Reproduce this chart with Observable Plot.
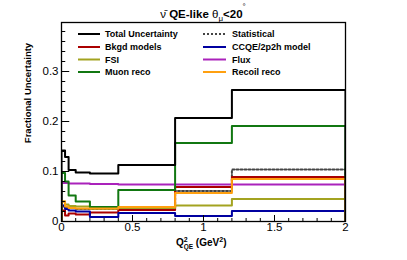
<!DOCTYPE html>
<html><head><meta charset="utf-8">
<script src="https://cdn.jsdelivr.net/npm/d3@7"></script>
<script src="https://cdn.jsdelivr.net/npm/@observablehq/plot@0.6"></script>
<style>body{margin:0;background:#fff} #c{width:407px;height:260px}</style>
</head><body><div id="c"></div>
<script>
const binEdges = [0, 0.025, 0.05, 0.1, 0.2, 0.4, 0.8, 1.2, 2.0];
const totalUnc  = [0.142, 0.129, 0.103, 0.098, 0.096, 0.113, 0.207, 0.263];
const statUnc   = [0.030, 0.028, 0.027, 0.025, 0.025, 0.028, 0.061, 0.104];
const bkgdUnc   = [0.022, 0.012, 0.016, 0.014, 0.018, 0.023, 0.069, 0.089];
const ccqeUnc   = [0.032, 0.025, 0.022, 0.020, 0.009, 0.017, 0.011, 0.021];
const fsiUnc    = [0.040, 0.034, 0.031, 0.030, 0.026, 0.027, 0.032, 0.045];
const fluxUnc   = [0.077, 0.077, 0.076, 0.076, 0.075, 0.074, 0.074, 0.074];
const muonUnc   = [0.097, 0.080, 0.052, 0.040, 0.029, 0.063, 0.157, 0.191];
const recoilUnc = [0.040, 0.030, 0.027, 0.026, 0.026, 0.029, 0.057, 0.085];
const seriesNames = ["Total Uncertainty","Statistical","Bkgd models","CCQE/2p2h model","FSI","Flux","Muon reco","Recoil reco"];
const seriesColors = ["#000000","#444444","#aa0000","#0000a0","#a3a320","#aa22bb","#117711","#ffa010"];
const xTicks = [0, 0.5, 1, 1.5, 2];
const yTicks = [0, 0.1, 0.2, 0.3];

const seriesValues = [totalUnc, statUnc, bkgdUnc, ccqeUnc, fsiUnc, fluxUnc, muonUnc, recoilUnc];
function stepPts(vals, name) {
  const pts = [{x: binEdges[0], y: 0, s: name}];
  vals.forEach((v, i) => pts.push({x: binEdges[i], y: v, s: name}));
  pts.push({x: binEdges[binEdges.length - 1], y: vals[vals.length - 1], s: name});
  pts.push({x: binEdges[binEdges.length - 1], y: 0, s: name});
  return pts;
}
const drawOrder = [1, 2, 3, 4, 5, 6, 7, 0];
const lineMarks = drawOrder.map(i => Plot.line(stepPts(seriesValues[i], seriesNames[i]), {
  x: "x", y: "y", curve: "step-after", stroke: seriesColors[i], strokeWidth: 2,
  strokeDasharray: i === 1 ? "2,2" : null, clip: true
}));

const xMinor = d3.range(0, 2.0001, 0.1).map(v => +v.toFixed(2));
const yMinor = d3.range(0, 0.3901, 0.02).map(v => +v.toFixed(2));

const plot = Plot.plot({
  width: 407, height: 260,
  marginLeft: 61, marginRight: 62, marginTop: 22, marginBottom: 39,
  x: {domain: [0, 2]},
  y: {domain: [0, 0.398]},
  style: {fontFamily: "'Liberation Sans', Arial, sans-serif", background: "white"},
  marks: [
    ...lineMarks,
    Plot.ruleX(xMinor, {x: d => d, y1: 0, y2: d => (xTicks.includes(d) ? 0.012 : 0.006), stroke: "#000", strokeWidth: 1}),
    Plot.ruleY(yMinor, {y: d => d, x1: 0, x2: d => (yTicks.includes(d) ? 0.058 : 0.03), stroke: "#000", strokeWidth: 1}),
    Plot.frame({stroke: "#000", strokeWidth: 1.3}),
    Plot.axisX({ticks: xTicks, tickSize: 0, tickPadding: 1, tickFormat: d => String(d), fontSize: 11.5, fill: "#000", label: null}),
    Plot.axisY({ticks: yTicks, tickSize: 0, tickPadding: 3, tickFormat: d => String(d), fontSize: 11.5, fill: "#000", label: null})
  ]
});
document.getElementById("c").appendChild(plot);

const svg = d3.select(plot);
const F = "'Liberation Sans', Arial, sans-serif";
// title
const t = svg.append("text").attr("x", 203).attr("y", 18).attr("text-anchor", "middle")
  .attr("font-family", F).attr("font-size", 11.5).attr("fill", "#000");
t.append("tspan").attr("font-weight", "normal").text("\u03BD\u0304");
t.append("tspan").attr("font-weight", "bold").text(" QE-like ");
t.append("tspan").attr("font-weight", "normal").text("\u03B8");
t.append("tspan").attr("font-weight", "normal").attr("font-size", 8).attr("dy", 3).text("\u03BC");
t.append("tspan").attr("font-weight", "bold").attr("dy", -3).text("<20");
t.append("tspan").attr("font-weight", "normal").attr("font-size", 8).attr("dy", -9).text("\u00B0");

// y label
svg.append("text").attr("transform", "translate(31,93) rotate(-90)").attr("text-anchor", "middle")
  .attr("font-family", F).attr("font-size", 9.5).attr("font-weight", "bold").attr("fill", "#000")
  .text("Fractional Uncertainty");

// x label
const xl = svg.append("text").attr("x", 176).attr("y", 246).attr("text-anchor", "start")
  .attr("font-family", F).attr("font-size", 10).attr("font-weight", "bold").attr("fill", "#000");
xl.append("tspan").text("Q");
xl.append("tspan").attr("font-size", 7).attr("dy", -4).text("2");
xl.append("tspan").attr("font-size", 6.5).attr("dx", -4).attr("dy", 7).text("QE");
xl.append("tspan").attr("dy", -3).text(" (GeV");
xl.append("tspan").attr("font-size", 7).attr("dy", -4).text("2");
xl.append("tspan").attr("dy", 4).text(")");

// legend
const legCols = [[78, 100, 105], [203, 226, 232]];
const legRows = [34, 47, 59.5, 72];
seriesNames.forEach((name, i) => {
  const col = legCols[i % 2], row = legRows[Math.floor(i / 2)];
  svg.append("line").attr("x1", col[0]).attr("x2", col[1]).attr("y1", row).attr("y2", row)
    .attr("stroke", seriesColors[i]).attr("stroke-width", 2)
    .attr("stroke-dasharray", i === 1 ? "2,2" : null);
  svg.append("text").attr("x", col[2]).attr("y", row + 3.3).attr("text-anchor", "start")
    .attr("font-family", F).attr("font-size", 9).attr("font-weight", "bold").attr("fill", "#000")
    .text(name);
});
</script>
</body></html>
